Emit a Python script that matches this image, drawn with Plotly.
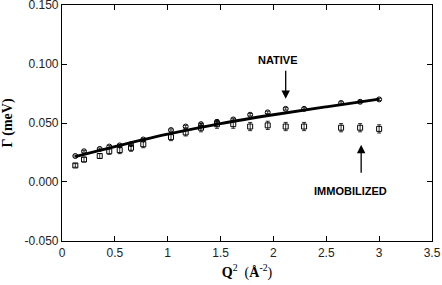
import plotly.graph_objects as go

q2 = [0.126, 0.208, 0.357, 0.447, 0.546, 0.653, 0.769, 1.031, 1.17, 1.315,
      1.466, 1.62, 1.78, 1.946, 2.116, 2.29, 2.64, 2.82, 3.0]
native = [0.022, 0.026, 0.028, 0.030, 0.031, 0.032, 0.036, 0.044, 0.047, 0.049,
          0.051, 0.053, 0.057, 0.059, 0.062, 0.062, 0.067, 0.068, 0.070]
native_err = [0.0008, 0.0008, 0.0008, 0.0008, 0.001, 0.001, 0.001, 0.001, 0.001, 0.001,
              0.001, 0.001, 0.001, 0.001, 0.001, 0.001, 0.001, 0.001, 0.001]
immob = [0.014, 0.019, 0.022, 0.026, 0.027, 0.029, 0.032, 0.038, 0.042, 0.046,
         0.049, 0.049, 0.047, 0.048, 0.047, 0.047, 0.046, 0.046, 0.045]
immob_err = [0.0015, 0.002, 0.002, 0.0025, 0.003, 0.003, 0.003, 0.003, 0.003, 0.0035,
             0.0035, 0.0035, 0.0035, 0.0035, 0.0035, 0.0035, 0.0035, 0.0035, 0.0035]

fit_x = [0.126, 0.5, 1.0, 1.5, 2.0, 2.5, 3.0]
fit_y = [0.0215, 0.030, 0.0405, 0.0495, 0.057, 0.0637, 0.0702]

x_ticks = [0, 0.5, 1, 1.5, 2, 2.5, 3, 3.5]
x_tick_text = ["0", "0.5", "1", "1.5", "2", "2.5", "3", "3.5"]
y_ticks = [-0.05, 0.0, 0.05, 0.1, 0.15]
y_tick_text = ["-0.050", "0.000", "0.050", "0.100", "0.150"]

fig = go.Figure()
fig.add_trace(go.Scatter(
    x=q2, y=immob, mode="markers",
    marker=dict(symbol="square-open", size=5, color="black", line=dict(width=1)),
    error_y=dict(type="data", array=immob_err, color="black", thickness=0.8, width=2),
    showlegend=False))
fig.add_trace(go.Scatter(
    x=q2, y=native, mode="markers",
    marker=dict(symbol="circle-open", size=5, color="black", line=dict(width=1)),
    error_y=dict(type="data", array=native_err, color="black", thickness=0.8, width=2),
    showlegend=False))
fig.add_trace(go.Scatter(
    x=fit_x, y=fit_y, mode="lines",
    line=dict(color="black", width=2.8, shape="spline"),
    showlegend=False))

fig.add_annotation(x=2.116, y=0.0705, ax=2.116, ay=0.0955, xref="x", yref="y",
                   axref="x", ayref="y", text="", showarrow=True,
                   arrowhead=2, arrowsize=1.3, arrowwidth=1.3, arrowcolor="black")
fig.add_annotation(x=2.04, y=0.1035, xref="x", yref="y", text="<b>NATIVE</b>",
                   showarrow=False, font=dict(family="Liberation Sans", size=11, color="black"))
fig.add_annotation(x=2.83, y=0.0315, ax=2.83, ay=0.0065, xref="x", yref="y",
                   axref="x", ayref="y", text="", showarrow=True,
                   arrowhead=2, arrowsize=1.3, arrowwidth=1.3, arrowcolor="black")
fig.add_annotation(x=2.73, y=-0.0075, xref="x", yref="y", text="<b>IMMOBILIZED</b>",
                   showarrow=False, font=dict(family="Liberation Sans", size=11, color="black"))

axis_common = dict(showline=True, linecolor="black", linewidth=1.2, mirror="ticks",
                   ticks="inside", ticklen=5, tickwidth=1, tickcolor="black",
                   showgrid=False, zeroline=False, automargin=False,
                   ticklabeloverflow="allow",
                   tickfont=dict(family="Liberation Sans", size=12, color="#222"))

fig.update_xaxes(range=[0, 3.5001], tickvals=x_ticks, ticktext=x_tick_text,
                 title=dict(text="<b>Q</b><sup>2</sup>  (<b>Å</b><sup>-2</sup>)",
                            font=dict(family="Liberation Serif", size=14, color="black"),
                            standoff=8),
                 **axis_common)
fig.update_yaxes(range=[-0.0501, 0.1501], tickvals=y_ticks, ticktext=y_tick_text,
                 title=dict(text="<b>Γ (meV)</b>",
                            font=dict(family="Liberation Serif", size=14, color="black"),
                            standoff=8),
                 **axis_common)

fig.update_layout(width=442, height=285, margin=dict(l=62, r=10, t=5, b=44),
                  plot_bgcolor="white", paper_bgcolor="white")
fig.write_html("out.html", config={"displayModeBar": False},
               post_script="document.body.style.margin='0';document.body.style.overflow='hidden';")
